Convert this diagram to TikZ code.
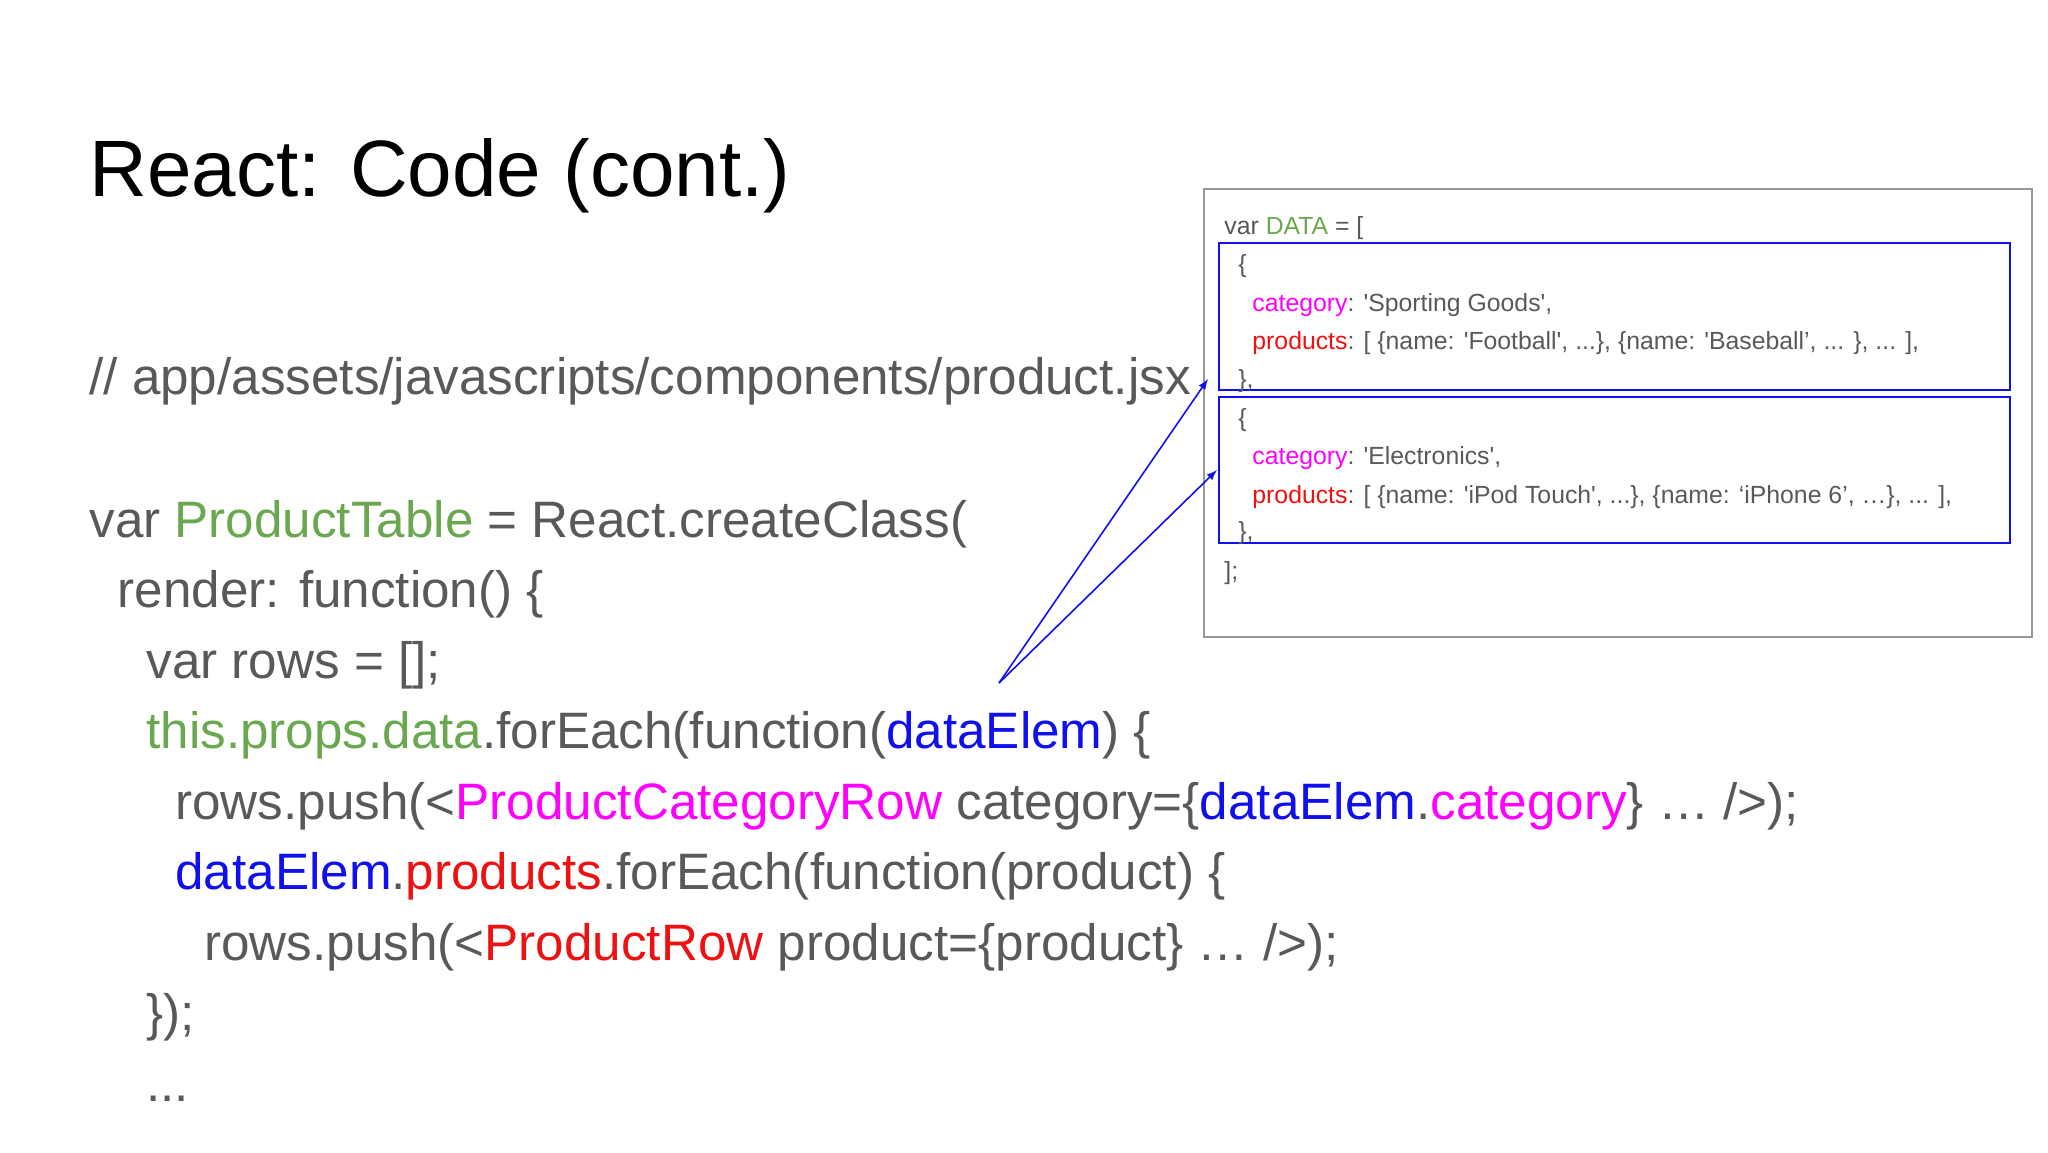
\documentclass[tikz,border=0pt]{standalone}
\usepackage{fontspec}
\setmainfont{Liberation Sans}
\newcommand{\q}{\textquotesingle}
\definecolor{tg}{HTML}{595959}
\definecolor{cg}{HTML}{6AA84F}
\definecolor{cb}{HTML}{1010EE}
\definecolor{cm}{HTML}{FF00FF}
\definecolor{cr}{HTML}{EE1111}
\begin{document}
\begin{tikzpicture}[x=0.5pt,y=-0.5pt,
  code/.style={anchor=base west,inner sep=0pt,text=tg,font=\fontsize{25.6}{30}\selectfont},
  small/.style={anchor=base west,inner sep=0pt,text=tg,font=\fontsize{12.4}{14}\selectfont},
  conn/.style={cb,line width=0.8pt,-latex}]
\useasboundingbox[fill=white] (0,0) rectangle (2048,1152);
\node[anchor=base west,inner sep=0pt,font=\fontsize{40}{46}\selectfont] (title) at (89,196) {React: Code (cont.)};
\node[code] (l0) at (89,394) {// app/assets/javascripts/components/product.jsx};
\node[code] (l1) at (89,537) {var \textcolor{cg}{ProductTable} = React.createClass(};
\node[code] (l2) at (117.5,607) {render: function() \{};
\node[code] (l3) at (146,678) {var rows = [];};
\node[code] (l4) at (146,748) {\textcolor{cg}{this.props.data}.forEach(function(\textcolor{cb}{dataElem}) \{};
\node[code] (l5) at (175,819) {rows.push(<\textcolor{cm}{ProductCategoryRow} category=\{\textcolor{cb}{dataElem}.\textcolor{cm}{category}\} … />);};
\node[code] (l6) at (175,889) {\textcolor{cb}{dataElem}.\textcolor{cr}{products}.forEach(function(product) \{};
\node[code] (l7) at (204,960) {rows.push(<\textcolor{cr}{ProductRow} product=\{product\} … />);};
\node[code] (l8) at (146,1030) {\});};
\node[code] (l9) at (146,1101) {...};
% data box
\draw[gray!80,line width=1pt] (1204,189) rectangle (2032,637);
\node[draw=cb,line width=1.2pt,minimum width=395.5pt,minimum height=73.5pt,inner sep=0pt,anchor=north west] (b1) at (1218,242) {};
\node[draw=cb,line width=1.2pt,minimum width=395.5pt,minimum height=73pt,inner sep=0pt,anchor=north west] (b2) at (1218,396) {};
\node[small] (d0) at (1224,234) {var \textcolor{cg}{DATA} = [};
\node[small] (d1) at (1238,272) {\{};
\node[small] (d2) at (1252,311) {\textcolor{cm}{category}: \q Sporting Goods\q,};
\node[small] (d3) at (1252,349) {\textcolor{cr}{products}: [ \{name: \q Football\q, ...\}, \{name: \q Baseball’, ... \}, ... ],};
\node[small] (d4) at (1238,387) {\},};
\node[small] (d5) at (1238,426) {\{};
\node[small] (d6) at (1252,464) {\textcolor{cm}{category}: \q Electronics\q,};
\node[small] (d7) at (1252,503) {\textcolor{cr}{products}: [ \{name: \q iPod Touch\q, ...\}, \{name: ‘iPhone 6’, …\}, ... ],};
\node[small] (d8) at (1238,539) {\},};
\node[small] (d9) at (1224,579) {];};
\coordinate (src) at (999,683);
\coordinate (t1) at (1208,379);
\coordinate (t2) at (1217,470);
\draw[conn] (src) -- (t1);
\draw[conn] (src) -- (t2);
\end{tikzpicture}
\end{document}
